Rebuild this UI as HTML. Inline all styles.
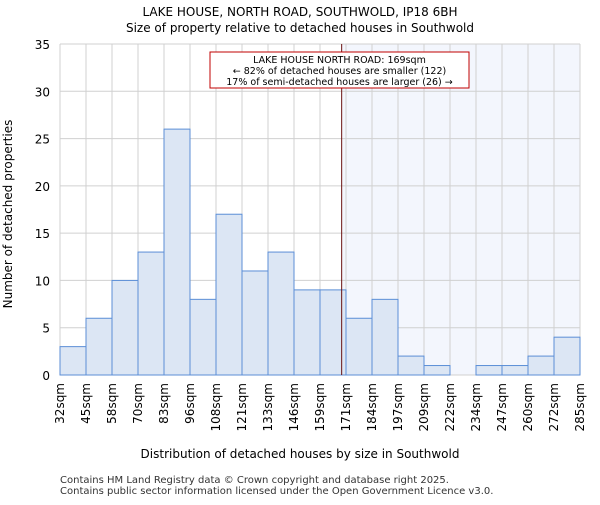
<!DOCTYPE html><html><head><meta charset="utf-8"><style>body{margin:0;background:#fff}svg{font-family:"DejaVu Sans","Liberation Sans",sans-serif}</style></head><body>
<svg id="c" width="600" height="500" xmlns="http://www.w3.org/2000/svg"></svg>
<script>
const categories=["32sqm","45sqm","58sqm","70sqm","83sqm","96sqm","108sqm","121sqm","133sqm","146sqm","159sqm","171sqm","184sqm","197sqm","209sqm","222sqm","234sqm","247sqm","260sqm","272sqm","285sqm"];
const edges=[32,45,58,70,83,96,108,121,133,146,159,171,184,197,209,222,234,247,260,272,285];
const counts=[3,6,10,13,26,8,17,11,13,9,9,6,8,2,1,0,1,1,2,4];
const yTicks=[0,5,10,15,20,25,30,35];
const marker=169;
const svg=document.getElementById('c');const NS="http://www.w3.org/2000/svg";
const L=60,R=580,T=44,B=375,n=counts.length,bw=(R-L)/n;
const x=i=>L+i*bw;const y=v=>B-(v/35)*(B-T);
function xv(v){for(let i=0;i<edges.length-1;i++){if(v>=edges[i]&&v<=edges[i+1])return x(i)+bw*(v-edges[i])/(edges[i+1]-edges[i]);}return R;}
function el(t,a,txt){const e=document.createElementNS(NS,t);for(const k in a)e.setAttribute(k,a[k]);if(txt!==undefined)e.textContent=txt;svg.appendChild(e);return e;}
const mx=xv(marker);
let e=el('rect',{x:mx,y:T,width:R-mx,height:B-T,fill:'#f3f6fd'});


for(let i=0;i<=n;i++){e=el('line',{x1:x(i),x2:x(i),y1:T,y2:B,stroke:'#d0d0d0'});

}
yTicks.forEach(t=>{e=el('line',{x1:L,x2:R,y1:y(t),y2:y(t),stroke:'#d0d0d0'});


e=el('text',{x:L-10,y:y(t)+5,'text-anchor':'end','font-size':12,fill:'#000'},t);

});
counts.forEach((v,i)=>{if(v<=0)return;e=el('rect',{x:x(i),y:y(v),width:bw,height:B-y(v),fill:'#dce6f4',stroke:'#5b8ed6','stroke-width':1});

});
categories.forEach((c,i)=>{const px=x(i)+4;e=el('text',{x:px,y:B+8,'text-anchor':'end','font-size':12,transform:`rotate(-90 ${px} ${B+8})`},c);

});
e=el('line',{x1:mx,x2:mx,y1:T,y2:B,stroke:'#6a1010','stroke-width':1});


e=el('rect',{x:210,y:52,width:259,height:36,fill:'#fff',stroke:'#c00000'});


[["LAKE HOUSE NORTH ROAD: 169sqm",63],["← 82% of detached houses are smaller (122)",74],["17% of semi-detached houses are larger (26) →",85]].forEach(a=>{e=el('text',{x:339.5,y:a[1],'text-anchor':'middle','font-size':9.5},a[0]);

});
e=el('text',{x:300,y:16,'text-anchor':'middle','font-size':12},"LAKE HOUSE, NORTH ROAD, SOUTHWOLD, IP18 6BH");


e=el('text',{x:300,y:32,'text-anchor':'middle','font-size':12},"Size of property relative to detached houses in Southwold");


e=el('text',{x:300,y:458,'text-anchor':'middle','font-size':12},"Distribution of detached houses by size in Southwold");


e=el('text',{x:12,y:214,'text-anchor':'middle','font-size':12,transform:'rotate(-90 12 214)'},"Number of detached properties");


e=el('text',{x:60,y:483,'font-size':10,fill:'#333'},"Contains HM Land Registry data © Crown copyright and database right 2025.");


e=el('text',{x:60,y:494,'font-size':10,fill:'#333'},"Contains public sector information licensed under the Open Government Licence v3.0.");


</script></body></html>
